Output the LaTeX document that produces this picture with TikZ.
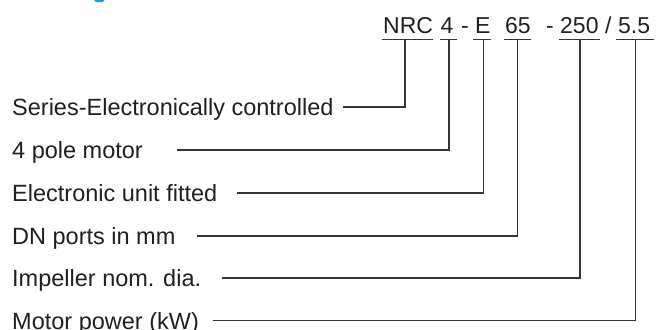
\documentclass[tikz,border=0pt]{standalone}
\usepackage{fontspec}
\setmainfont{Liberation Sans}
\definecolor{ink}{HTML}{231F20}
\definecolor{brand}{HTML}{1E9AD6}
\begin{document}
\begin{tikzpicture}[x=1pt,y=-1pt,
  lbl/.style={anchor=base west,inner sep=0pt,text=ink,font=\fontsize{23.5}{28}\selectfont},
  code/.style={anchor=base west,inner sep=0pt,text=ink,font=\fontsize{23}{28}\selectfont},
  wire/.style={draw=ink!90,line width=1.3pt},
  uline/.style={draw=ink!90,line width=1.3pt}]
\useasboundingbox (0,0) rectangle (666,329);
% fragment of heading at top edge
\fill[brand] (94,0) -- (104.5,0) -- (102.5,2.2) -- (96,2.2) -- cycle;

% code line
\node[code] (nrc) at (383,33.3) {NRC};
\node[code] (four) at (440.5,33.3) {4};
\node[code] (d1) at (461,33.3) {-};
\node[code] (e) at (475,33.3) {E};
\node[code] (sf) at (505,33.3) {65};
\node[code] (d2) at (546,33.3) {-};
\node[code] (tf) at (560,33.3) {250};
\node[code] (sl) at (605,33.3) {/};
\node[code] (ff) at (618,33.3) {5.5};

% underlines
\draw[uline] (382,39.3) -- (433,39.3);
\draw[uline] (440,39.3) -- (457,39.3);
\draw[uline] (473,39.3) -- (491,39.3);
\draw[uline] (504,39.3) -- (531,39.3);
\draw[uline] (559,39.3) -- (600,39.3);
\draw[uline] (616,39.3) -- (654,39.3);

\coordinate (t1) at (405,39.3);
\coordinate (t2) at (449,39.3);
\coordinate (t3) at (483.5,39.3);
\coordinate (t4) at (517.5,39.3);
\coordinate (t5) at (580,39.3);
\coordinate (t6) at (635.5,39.3);

% labels
\node[lbl] (l1) at (12,115.4) {Series-Electronically controlled};
\node[lbl] (l2) at (12,158.4) {4 pole motor};
\node[lbl] (l3) at (12,201.4) {Electronic unit fitted};
\node[lbl] (l4) at (12,244.4) {DN ports in mm};
\node[lbl] (l5) at (12,286.4) {Impeller nom. dia.};
\node[lbl] (l6) at (12,329.0) {Motor power (kW)};

\coordinate (s1) at (343,107);
\coordinate (s2) at (177,150);
\coordinate (s3) at (237,193);
\coordinate (s4) at (197,236);
\coordinate (s5) at (222,278);
\coordinate (s6) at (213,320.6);

\draw[wire] (s1) -- (s1 -| t1) -- (t1);
\draw[wire] (s2) -- (s2 -| t2) -- (t2);
\draw[wire] (s3) -- (s3 -| t3) -- (t3);
\draw[wire] (s4) -- (s4 -| t4) -- (t4);
\draw[wire] (s5) -- (s5 -| t5) -- (t5);
\draw[wire] (s6) -- (s6 -| t6) -- (t6);
\end{tikzpicture}
\end{document}
